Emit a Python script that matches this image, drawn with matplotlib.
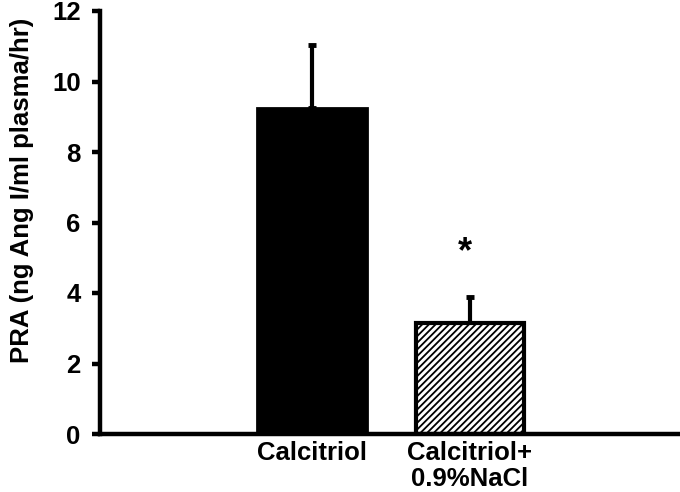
import matplotlib
matplotlib.use("Agg")
import matplotlib.pyplot as plt

categories = ["Calcitriol", "Calcitriol+\n0.9%NaCl"]
values = [9.25, 3.15]
errors = [1.78, 0.75]
yticks = [0, 2, 4, 6, 8, 10, 12]

plt.rcParams['font.family'] = ['Liberation Sans', 'DejaVu Sans']
plt.rcParams['font.weight'] = 'bold'
plt.rcParams['hatch.linewidth'] = 1.3

fig = plt.figure(figsize=(6.8, 4.92), dpi=100)
ax = fig.add_axes([100/680, 1-434/492, 1-100/680, (434-11)/492])

x = [0, 1]
ax.bar(x[0], values[0], width=0.7, color='black', edgecolor='black', linewidth=2, zorder=2)
ax.bar(x[1], values[1], width=0.68, color='white', edgecolor='black', linewidth=3,
       hatch='/////', zorder=2)
ax.errorbar(x, values, yerr=[[0, 0], errors], fmt='none', ecolor='black',
            elinewidth=3, capsize=3, capthick=3.5, zorder=1)
ax.text(x[1] - 0.03, 5.15, '*', ha='center', va='center', fontsize=26, fontweight='bold')

ax.set_xlim(-1.342, 2.33)
ax.set_ylim(0, 12)
ax.set_yticks(yticks)
ax.set_yticklabels([str(t) for t in yticks], fontsize=18.5, fontweight='bold')
ax.set_xticks(x)
ax.set_xticklabels(categories, fontsize=18.5, fontweight='bold', linespacing=1.1)
ax.tick_params(axis='x', length=0, pad=5)
ax.tick_params(axis='y', direction='out', length=6, width=3.2, pad=8)
for s in ['top', 'right']:
    ax.spines[s].set_visible(False)
for s in ['left', 'bottom']:
    ax.spines[s].set_linewidth(3.2)
ax.set_ylabel('PRA (ng Ang I/ml plasma/hr)', fontsize=18.5, fontweight='bold')
ax.yaxis.set_label_coords(-0.114, 0.575)

fig.savefig('out.png', dpi=100)
